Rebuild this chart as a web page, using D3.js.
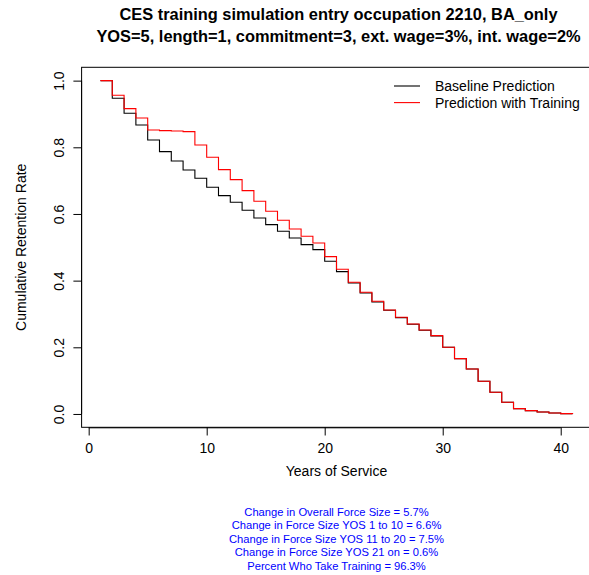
<!DOCTYPE html>
<html>
<head>
<meta charset="utf-8">
<script src="https://cdn.jsdelivr.net/npm/d3@7"></script>
<style>
    html, body { margin: 0; padding: 0; background: #fff; }
    svg { display: block; font-family: "Liberation Sans", Arial, Helvetica, sans-serif; }
    .box { fill: none; stroke: #000; stroke-width: 1; }
    .axis text { font-size: 14px; fill: #000; }
    .axis line, .axis path { stroke: #000; }
    .curve { fill: none; stroke-width: 1.1; }
</style>
</head>
<body>
<div id="chart"></div>
<script>
// Chart values.
var years = d3.range(1, 42);
var baseline = [
    1.000, 0.947, 0.902, 0.867, 0.822, 0.787, 0.759, 0.732, 0.707, 0.680,
    0.655, 0.635, 0.611, 0.588, 0.568, 0.548, 0.528, 0.508, 0.493, 0.458,
    0.427, 0.393, 0.363, 0.336, 0.311, 0.289, 0.269, 0.251, 0.234, 0.200,
    0.166, 0.135, 0.098, 0.065, 0.035, 0.016, 0.010, 0.006, 0.003, 0.001,
    0.000
];
var training = [
    1.000, 0.956, 0.916, 0.888, 0.852, 0.850, 0.849, 0.847, 0.807, 0.770,
    0.733, 0.703, 0.670, 0.638, 0.608, 0.581, 0.555, 0.533, 0.513, 0.472,
    0.434, 0.395, 0.365, 0.338, 0.312, 0.290, 0.270, 0.252, 0.235, 0.200,
    0.166, 0.135, 0.098, 0.065, 0.035, 0.016, 0.010, 0.006, 0.003, 0.001,
    0.000
];
var xTicks = [0, 10, 20, 30, 40];
var yTicks = [0, 0.2, 0.4, 0.6, 0.8, 1.0];
var titleLines = [
    'CES training simulation entry occupation 2210, BA_only',
    'YOS=5, length=1, commitment=3, ext. wage=3%, int. wage=2%'
];
var legendLabels = ['Baseline Prediction', 'Prediction with Training'];
var legendColors = ['#000000', '#ff0000'];
var notes = [
    'Change in Overall Force Size = 5.7%',
    'Change in Force Size YOS 1 to 10 = 6.6%',
    'Change in Force Size YOS 11 to 20 = 7.5%',
    'Change in Force Size YOS 21 on = 0.6%',
    'Percent Who Take Training = 96.3%'
];

(function (d3) {
    'use strict';

    var width = 589, height = 575;
    var left = 81.6, right = 591.4, top = 67.3, bottom = 427.3;
    var cx = 0.5 * (left + right);

    var svg = d3.select('#chart').append('svg')
        .attr('width', width)
        .attr('height', height)
    ;

    // R style: data range padded by 4% on each side
    var x = d3.scaleLinear().domain([-0.6, 42.6]).range([left, right]);
    var y = d3.scaleLinear().domain([-0.04, 1.04]).range([bottom, top]);

    // Title, two bold lines.
    svg.selectAll('.title')
        .data(titleLines)
        .enter()
        .append('text')
        .attr('class', 'title')
        .attr('x', cx + 2)
        .attr('y', function (d, i) { return 19.5 + i * 22.5; })
        .attr('text-anchor', 'middle')
        .style('font-size', '16.4px')
        .style('font-weight', 'bold')
        .text(function (d) { return d; })
    ;

    // x-axis
    var xAxis = svg.append('g')
        .attr('class', 'axis x-axis')
        .attr('transform', translate(0, bottom))
        .call(d3.axisBottom(x).tickValues(xTicks).tickSize(8.2).tickPadding(8))
    ;
    xAxis.select('.domain').attr('d', 'M' + x(0) + ',0.5H' + x(40));
    xAxis.selectAll('text').attr('dy', '0.71em');

    // y-axis, labels turned like R does (las = 0)
    var yAxis = svg.append('g')
        .attr('class', 'axis y-axis')
        .attr('transform', translate(left, 0))
        .call(d3.axisLeft(y).tickValues(yTicks).tickSize(8.2).tickFormat(d3.format('.1f')))
    ;
    yAxis.select('.domain').attr('d', 'M0,' + y(0) + 'V' + y(1));
    yAxis.selectAll('.tick text')
        .attr('x', null)
        .attr('dy', null)
        .attr('text-anchor', 'middle')
        .attr('transform', 'translate(-18,0) rotate(-90)')
    ;

    svg.append('rect')
        .attr('class', 'box')
        .attr('x', left)
        .attr('y', top)
        .attr('width', right - left)
        .attr('height', bottom - top)
    ;

    // Axis titles
    svg.append('text')
        .attr('x', cx)
        .attr('y', 476)
        .attr('text-anchor', 'middle')
        .style('font-size', '14px')
        .text('Years of Service')
    ;
    svg.append('text')
        .attr('transform', translate(26, 0.5 * (top + bottom)) + ' rotate(-90)')
        .attr('text-anchor', 'middle')
        .style('font-size', '14px')
        .text('Cumulative Retention Rate')
    ;

    // Step curves (type = "s")
    var stepLine = d3.line()
        .x(function (d) { return x(d[0]); })
        .y(function (d) { return y(d[1]); })
        .curve(d3.curveStepAfter)
    ;

    [baseline, training].forEach(function (series, k) {
        svg.append('path')
            .attr('class', 'curve')
            .datum(d3.zip(years, series))
            .attr('stroke', legendColors[k])
            .attr('d', stepLine)
        ;
    });

    // Legend, no box
    var legend = svg.append('g').attr('class', 'legend');
    legendLabels.forEach(function (label, i) {
        var ly = 86 + i * 16.6;
        legend.append('line')
            .attr('x1', 394).attr('x2', 420)
            .attr('y1', ly).attr('y2', ly)
            .attr('stroke', legendColors[i])
            .attr('stroke-width', 1.1)
        ;
        legend.append('text')
            .attr('x', 435)
            .attr('y', ly + 5)
            .style('font-size', '14px')
            .text(label)
        ;
    });

    // Summary notes under the chart
    svg.selectAll('.note')
        .data(notes)
        .enter()
        .append('text')
        .attr('class', 'note')
        .attr('x', cx)
        .attr('y', function (d, i) { return 516 + i * 13.4; })
        .attr('text-anchor', 'middle')
        .attr('fill', '#0000ff')
        .style('font-size', '11.2px')
        .text(function (d) { return d; })
    ;

    function translate(a, b) {
        return 'translate(' + a + ',' + b + ')';
    }
})(d3);
</script>
</body>
</html>
